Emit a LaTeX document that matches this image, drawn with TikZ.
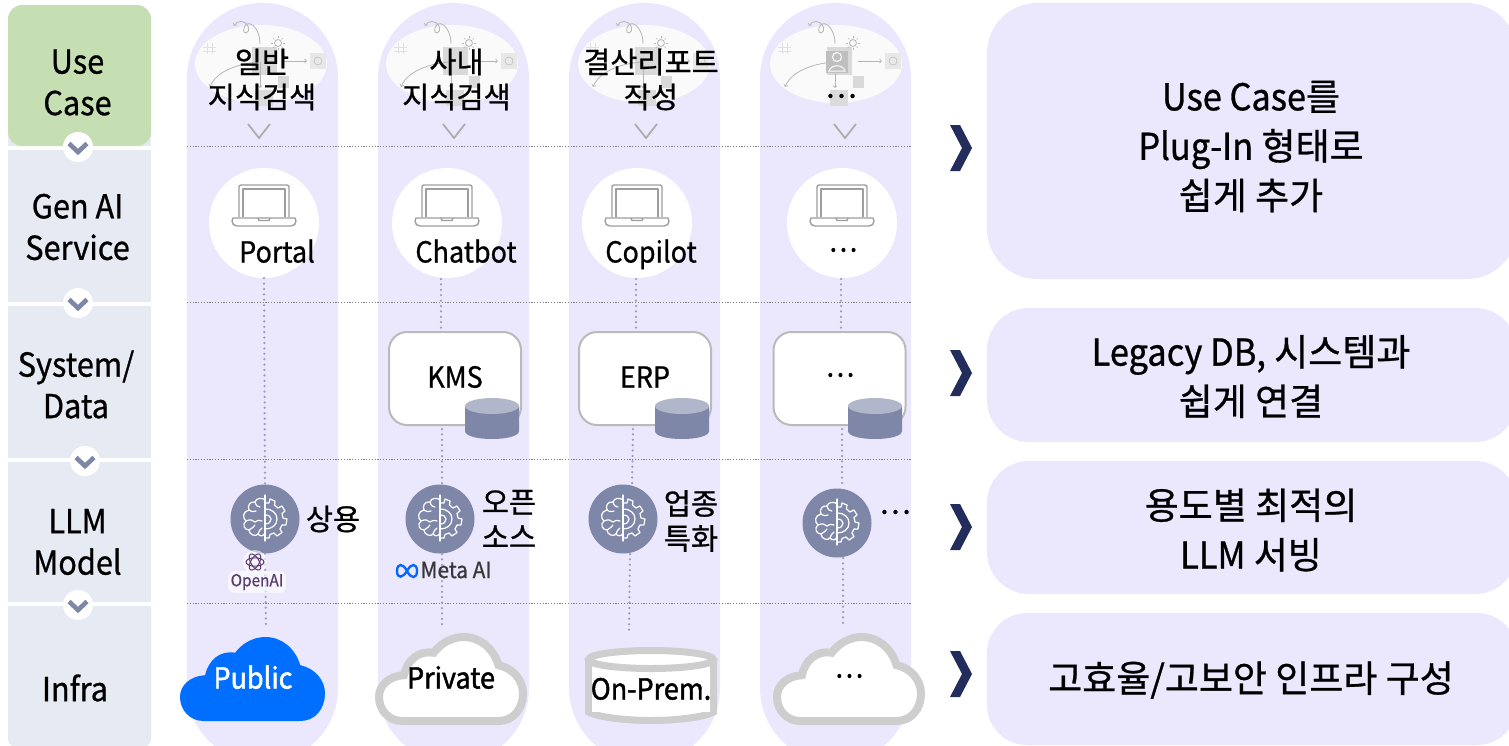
\documentclass[tikz,border=0pt]{standalone}
\usepackage{fontspec}
\setmainfont{Noto Sans CJK KR}[FakeBold=0.8]
\newfontfamily\lat{Noto Sans CJK KR}[FakeStretch=0.93,FakeBold=0.8]
\newfontfamily\latb{Noto Sans CJK KR}[FakeStretch=0.93,FakeBold=1.6]
\usetikzlibrary{calc}
\definecolor{lav}{HTML}{EBE8FD}
\definecolor{rowblue}{HTML}{E6EAF3}
\definecolor{rowgreen}{HTML}{C5DFB2}
\definecolor{slate}{HTML}{7F87A9}
\definecolor{slatelt}{HTML}{B1B7CB}
\definecolor{navy}{HTML}{232D5B}
\definecolor{cloudgrey}{HTML}{CFCECE}
\definecolor{pubblue}{HTML}{006EFF}
\definecolor{vdotc}{HTML}{9B9BBD}
\definecolor{sk}{HTML}{B5B5B5}
\definecolor{oai}{HTML}{5B3C6E}
\tikzset{
 rowtxt/.style={font=\fontsize{33}{41.5}\selectfont\lat,align=center,inner sep=0,text=black},
 paneltxt/.style={font=\fontsize{37}{49.5}\selectfont,align=center,inner sep=0,text=black},
 coltxt/.style={font=\fontsize{29.5}{35}\selectfont,align=center,inner sep=0,text=black},
 svc/.style={font=\fontsize{29}{35}\selectfont\lat,inner sep=0,text=black},
 svcb/.style={font=\fontsize{29}{35}\selectfont\latb,inner sep=0,text=black,text height=21pt,text depth=0pt},
 svcl/.style={svc,text height=21pt,text depth=0pt},
 hdot/.style={draw=black!50,line width=1pt,dash pattern=on 1.2pt off 1.6pt},
 vdot/.style={draw=vdotc,line width=2.5pt,line cap=round,dash pattern=on 0pt off 5.4pt},
 whitecirc/.style={circle,fill=white,minimum size=110pt,inner sep=0},
 sysbox/.style={draw=black!27,line width=2pt,fill=white,rounded corners=18pt,minimum width=132pt,minimum height=93pt,inner sep=0},
 braincirc/.style={circle,fill=slate,minimum size=69pt,inner sep=0},
 iconline/.style={draw=white,line width=1.2pt,line join=round,line cap=round},
 skline/.style={draw=sk,line width=.8pt},
 lap/.style={draw=black!38,line width=1.4pt,line join=round},
}
% cloud: left, top, width, height, style
\newcommand\cloudshape[5]{\begin{scope}[shift={(#1,#2)},xscale=#3/434,yscale=#4/251]
 \path[#5] (70,251) -- (360,251) .. controls (405,251) and (434,214) .. (434,169)
 .. controls (434,129) and (405,94) .. (360,84) .. controls (345,34) and (305,0) .. (255,0)
 .. controls (220,0) and (185,19) .. (165,47) .. controls (120,39) and (85,69) .. (75,114)
 .. controls (30,117) and (0,144) .. (0,179) .. controls (0,219) and (30,251) .. (70,251) -- cycle;
\end{scope}}
% db cylinder: left x, top-ellipse centre y
\newcommand\dbcyl[2]{\begin{scope}[shift={(#1,#2)}]
 \fill[slate] (0,0) -- (0,25) .. controls (0,30) and (12,33) .. (27,33) .. controls (42,33) and (54,30) .. (54,25) -- (54,0) -- cycle;
 \fill[slatelt] (27,0) ellipse[x radius=27,y radius=8];
\end{scope}}
% laptop: left x
\newcommand\laptop[1]{\begin{scope}[shift={(#1,184)}]
 \draw[lap,rounded corners=2pt] (7,33) -- (7,1) -- (57,1) -- (57,33);
 \draw[lap] (11,33) -- (11,5) -- (53,5) -- (53,33);
 \draw[lap] (1,34) -- (63,34) -- (64,37) .. controls (64,40) and (62,42) .. (59,42) -- (5,42) .. controls (2,42) and (0,40) .. (0,37) -- cycle;
 \draw[lap] (26,34) -- (27,36.5) -- (37,36.5) -- (38,34);
\end{scope}}
% brain icon, centre
\newcommand\brainicon[1]{\begin{scope}[shift={(#1)}]
 \draw[iconline] (0,-24) -- (0,22);
 \draw[iconline] (0,-19) .. controls (-3,-22) and (-9,-21) .. (-10,-17) .. controls (-15,-18) and (-18,-13) .. (-16,-9)
  .. controls (-22,-8) and (-23,-1) .. (-19,2) .. controls (-23,5) and (-21,11) .. (-16,11)
  .. controls (-16,16) and (-9,18) .. (-7,15) .. controls (-5,18) and (-1,17) .. (0,14);
 \draw[iconline] (-10,-17) .. controls (-9,-13) and (-7,-12) .. (-5,-12);
 \draw[iconline] (-16,-9) .. controls (-13,-7) and (-11,-7) .. (-9,-8);
 \draw[iconline] (-19,2) .. controls (-15,0) and (-12,1) .. (-10,3) .. controls (-7,1) and (-5,1) .. (-3,2);
 \draw[iconline] (-16,11) .. controls (-13,9) and (-11,8) .. (-10,6);
 \draw[iconline] (-7,15) .. controls (-6,12) and (-5,10) .. (-3,9);
 \draw[iconline] (0,-16) -- (4,-16) -- (5,-20) -- (10,-18) -- (9.5,-14) -- (13,-11) -- (17,-13) -- (20,-8) -- (17,-5.5) -- (18,-1) -- (22,0)
  -- (21,6) -- (17,6) -- (15,10) -- (17,13.5) -- (12,17) -- (9,14) -- (5,15.5) -- (4,19) -- (0,19);
 \draw[iconline] (0,-10) .. controls (8,-10) and (12,-5) .. (12,0) .. controls (12,6) and (7,10) .. (0,10);
 \draw[iconline] (0,-4) .. controls (4,-4) and (6,-2) .. (6,0) .. controls (6,3) and (4,5) .. (0,5);
\end{scope}}
% faint sketch behind use case text
\newcommand\usesketch[1]{\begin{scope}[shift={(#1)}]
 \fill[white!98!black] (0,0) ellipse[x radius=66,y radius=39];
 \fill[black!15] (-9,-17) rectangle (16,11);
 \fill[black!9] (49,-11) rectangle (65,5);
 \fill[black!15] (17,12) rectangle (28,24);
 \fill[black!14] (-6,26) rectangle (12,42);
 \draw[black!12,line width=1pt] (-58,-17) -- (-45,-17) (-58,-13) -- (-45,-13) (-54,-21) -- (-54,-10) (-49,-21) -- (-49,-10);
 \draw[skline,->] (22,-3) -- (46,-3);
 \draw[skline,->] (-3,-2) .. controls (-25,0) and (-45,8) .. (-51,23);
 \draw[skline,->] (-1,-20) .. controls (-1,-38) and (-14,-46) .. (-17,-36) .. controls (-19,-28) and (-10,-30) .. (-13,-38) .. controls (-16,-44) and (-24,-44) .. (-27,-38);
 \draw[skline,->] (-1,-2) -- (-1,24);
 \draw[skline] (17,-21) circle[radius=3.5];
 \foreach \a in {0,45,...,315}{\draw[sk,line width=.5pt] ($(17,-21)+(\a:5)$) -- ($(17,-21)+(\a:7)$);}
 \draw[black!25,line width=.6pt] (57,-3) circle[radius=4];
\end{scope}}
\newcommand\bigchev[1]{\begin{scope}[shift={(950,#1)}]
 \fill[navy] (0,-23) -- (10,-23) -- (22,0) -- (10,23) -- (0,23) -- (12,0) -- cycle;
\end{scope}}
\newcommand\smallv[1]{\begin{scope}[shift={(#1,131)}]
 \draw[black!32,line width=1.8pt] (-11,-7) -- (0,7) -- (11,-7);
\end{scope}}
\begin{document}
\begin{tikzpicture}[x=1pt,y=-1pt]
\useasboundingbox (0,0) rectangle (1509,745);
\clip (0,0) rectangle (1509,745);
% left rows
\fill[rowblue] (8,40) rectangle (151,146);
\fill[rowgreen,rounded corners=14pt] (8,5) rectangle (151,146);
\fill[rowblue] (8,150) rectangle (151,302);
\fill[rowblue] (8,306) rectangle (151,458);
\fill[rowblue] (8,462) rectangle (151,602);
\fill[rowblue] (8,606) -- (151,606) [rounded corners=8pt] -- (151,747) -- (8,747) [sharp corners] -- cycle;
% columns
\foreach \xa in {187,378,569,760}{
 \fill[lav,rounded corners=75pt] (\xa,3) rectangle ++(151,760);
}
% right panels
\fill[lav,rounded corners=50pt] (987,3) rectangle (1517,279);
\fill[lav,rounded corners=42pt] (987,308) rectangle (1517,442);
\fill[lav,rounded corners=42pt] (987,461) rectangle (1517,594);
\fill[lav,rounded corners=40pt] (987,613) rectangle (1517,745);
% use case sketches
\usesketch{261,64}
\usesketch{452,64}
\usesketch{644,64}
\usesketch{836,64}
\fill[black!25] (826,51) rectangle (848,73);
\draw[white,line width=1pt] (837,57) circle[radius=4.5] (829,71) .. controls (831,64) and (843,64) .. (845,71) -- cycle;
% V marks
\smallv{259}\smallv{454}\smallv{646}\smallv{845}
% row separators
\foreach \yy in {146,302,459,603}{\draw[hdot] (187,\yy) -- (912,\yy);}
% service circles
\node[whitecirc] (g1) at (264,223) {};
\node[whitecirc] (g2) at (447,223) {};
\node[whitecirc] (g3) at (637,223) {};
\node[whitecirc] (g4) at (842,223) {};
% system boxes
\node[sysbox] (s2) at (455,378.5) {};
\node[sysbox] (s3) at (645,378.5) {};
\node[sysbox] (s4) at (839.5,378.5) {};
% LLM circles
\node[braincirc] (b1) at (265,519) {};
\node[braincirc] (b2) at (440,519) {};
\node[braincirc] (b3) at (623,519) {};
\node[braincirc] (b4) at (837,523) {};
% connector ends
\coordinate (g2d) at (441,279); \coordinate (s2t) at (441,330);
\coordinate (s2d) at (442,429); \coordinate (b2t) at (442,485);
\coordinate (b2d) at (442,554); \coordinate (i2) at (442,625);
\coordinate (g3d) at (636,279); \coordinate (s3t) at (636,330);
\coordinate (s3d) at (633,429); \coordinate (b3t) at (632,485);
\coordinate (b3d) at (630,554); \coordinate (i3) at (629,630);
\coordinate (g4d) at (841,279); \coordinate (s4t) at (841,330);
\coordinate (s4d) at (842,429); \coordinate (b4t) at (842,488);
\coordinate (b4d) at (843,558); \coordinate (i4) at (843,625);
\coordinate (i1) at (266,625);
\draw[vdot] (g1.south) -- (b1.north);
\draw[vdot] (b1.south) -- (i1);
\draw[vdot] (g2d) -- (s2t); \draw[vdot] (s2d) -- (b2t); \draw[vdot] (b2d) -- (i2);
\draw[vdot] (g3d) -- (s3t); \draw[vdot] (s3d) -- (b3t); \draw[vdot] (b3d) -- (i3);
\draw[vdot] (g4d) -- (s4t); \draw[vdot] (s4d) -- (b4t); \draw[vdot] (b4d) -- (i4);
% laptops
\laptop{232}\laptop{415}\laptop{605}\laptop{810}
% db
\dbcyl{465}{406}\dbcyl{655}{406}\dbcyl{848}{406}
% brains
\brainicon{b1}\brainicon{b2}\brainicon{b3}\brainicon{b4}
% vendor marks
\fill[white,opacity=.6,rounded corners=7pt] (228,571) rectangle (286,593);
\fill[white,opacity=.6] (255,562) circle[radius=12];
\begin{scope}[shift={(255,562)}]
 \foreach \a in {0,60,120}{\draw[oai,line width=1pt,rotate=\a] (0,0) ellipse[x radius=9,y radius=4.2];}
\end{scope}
\node[inner sep=0,text=oai,font=\fontsize{16.5}{16}\selectfont\lat] (openai) at (257,582) {OpenAI};
\draw[blue!60!cyan,line width=2.3pt] (407,571) .. controls (403,563) and (397,563) .. (397,571) .. controls (397,579) and (403,578) .. (407,571) .. controls (411,563) and (417,563) .. (417,571) .. controls (417,579) and (411,579) .. (407,571);
\node[inner sep=0,text=black!78,font=\fontsize{22.5}{22}\selectfont\lat] (metaai) at (456,570) {Meta AI};
% infra
\cloudshape{180}{637}{145}{84}{fill=pubblue}
\cloudshape{379}{637}{144}{84}{draw=cloudgrey,line width=8pt,fill=white}
\cloudshape{777}{637}{144}{84}{draw=cloudgrey,line width=8pt,fill=white}
\draw[cloudgrey,line width=7pt,fill=white] (588.5,659) -- (588.5,712) .. controls (600,718) and (630,720.5) .. (651,720.5) .. controls (672,720.5) and (702,718) .. (713.5,712) -- (713.5,659);
\fill[white] (592,662) rectangle (710,712);
\draw[cloudgrey,line width=7pt,fill=white] (651,659.5) ellipse[x radius=62.5,y radius=9];
% chevrons on circles
\foreach \cx/\cy/\nm in {78/147/a,78/303/b,85/461/c,78/605/d}{
 \node[circle,fill=white,minimum size=30pt,inner sep=0] (chev\nm) at (\cx,\cy) {};
 \draw[slate,line width=4.6pt,line join=miter] ($(chev\nm)+(-9,-3.5)$) -- ($(chev\nm)+(0,5)$) -- ($(chev\nm)+(9,-3.5)$);
}
\bigchev{148}\bigchev{373}\bigchev{527}\bigchev{674}
% texts
\node[rowtxt] (r1) at (77.5,82.5) {Use\\Case};
\node[rowtxt] (r2) at (77.5,227) {Gen AI\\Service};
\node[rowtxt] (r3) at (76,384.5) {System/\\Data};
\node[rowtxt] (r4) at (77.5,542) {LLM\\Model};
\node[rowtxt] (r5) at (75,688) {Infra};
\node[coltxt] (u1) at (262,79.5) {일반\\지식검색};
\node[coltxt] (u2) at (456.5,79.5) {사내\\지식검색};
\node[coltxt] (u3) at (651,79.5) {결산리포트\\작성};
\node[coltxt] (u4) at (841,96) {…};
\node[svcl] at (277,252) (t1) {Portal};
\node[svcl] at (466,252) (t2) {Chatbot};
\node[svcl] at (651,252) (t3) {Copilot};
\node[svc] at (843,250) (t4) {…};
\node[svc] at (455,377) (t5) {KMS};
\node[svc] at (645,377) (t6) {ERP};
\node[svc] at (840,375) (t7) {…};
\node[coltxt] (m1) at (333,519) {상용};
\node[coltxt] (m2) at (509,519) {오픈\\소스};
\node[coltxt] (m3) at (691,521) {업종\\특화};
\node[coltxt] (m4) at (895,512) {…};
\node[svcb,text=white] (c1) at (253,678) {Public};
\node[svcb] (c2) at (451,678) {Private};
\node[svcb] (c3) at (651,689) {On-Prem.};
\node[svc] (c4) at (849,676) {…};
\node[paneltxt] (p1) at (1251,146.5) {{\lat Use Case}를\\{\lat Plug-In} 형태로\\쉽게 추가};
\node[paneltxt] (p2) at (1251,376.5) {{\lat Legacy DB,} 시스템과\\쉽게 연결};
\node[paneltxt] (p3) at (1251,530) {용도별 최적의\\{\lat LLM} 서빙};
\node[paneltxt] (p4) at (1251,680) {고효율/고보안 인프라 구성};
\end{tikzpicture}
\end{document}
